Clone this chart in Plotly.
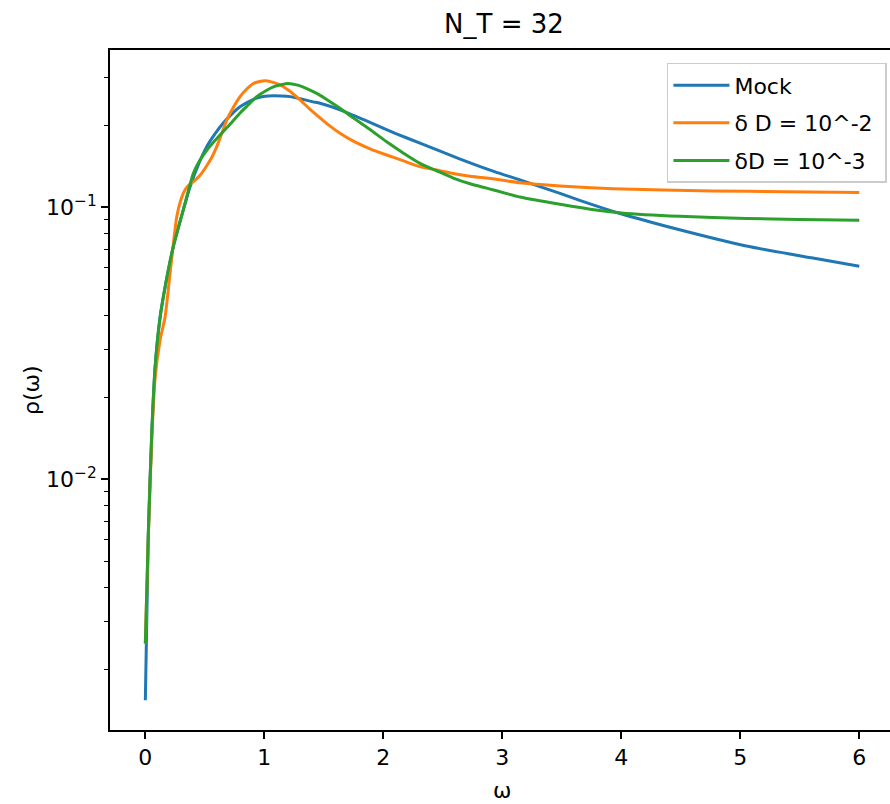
import plotly.graph_objects as go

# omega grid and spectral functions
omega_mock = [0, 0.025, 0.054, 0.082, 0.124, 0.17, 0.235, 0.319, 0.376, 0.45, 0.516, 0.585, 0.655,
              0.726, 0.796, 0.866, 0.936, 1.006, 1.076, 1.146, 1.216, 1.31, 1.41, 1.468, 1.636,
              1.888, 2.1, 2.308, 2.52, 2.729, 2.94, 3.149, 3.485, 3.65, 3.99, 4.49, 5.05, 5.61, 6.0]
rho_mock = [0.00154, 0.0063, 0.0148, 0.0258, 0.0394, 0.052, 0.0716, 0.0978, 0.119, 0.145, 0.167,
            0.186, 0.204, 0.220, 0.234, 0.244, 0.252, 0.256, 0.257, 0.2565, 0.255, 0.250, 0.244,
            0.241, 0.228, 0.205, 0.187, 0.172, 0.158, 0.1455, 0.1348, 0.126, 0.1124, 0.106, 0.0948,
            0.0826, 0.0720, 0.0650, 0.0607]

omega_d2 = [0, 0.025, 0.054, 0.082, 0.124, 0.166, 0.215, 0.264, 0.3, 0.334, 0.37, 0.403, 0.46,
            0.516, 0.56, 0.6, 0.643, 0.684, 0.74, 0.796, 0.852, 0.908, 0.96, 1.006, 1.06, 1.13,
            1.21, 1.3, 1.38, 1.468, 1.55, 1.636, 1.748, 1.888, 2.028, 2.17, 2.308, 2.45, 2.588,
            2.729, 2.869, 3.149, 3.485, 3.93, 4.77, 5.4, 6.0]
rho_d2 = [0.00249, 0.0062, 0.014, 0.0235, 0.0325, 0.0395, 0.061, 0.0923, 0.107, 0.116, 0.121, 0.124,
          0.131, 0.142, 0.153, 0.167, 0.187, 0.209, 0.233, 0.255, 0.272, 0.285, 0.29, 0.292, 0.289,
          0.282, 0.268, 0.248, 0.23, 0.213, 0.199, 0.187, 0.175, 0.164, 0.1556, 0.148, 0.141, 0.137,
          0.133, 0.13, 0.128, 0.123, 0.1197, 0.117, 0.1148, 0.114, 0.1133]

omega_d3 = [0, 0.025, 0.054, 0.082, 0.124, 0.17, 0.235, 0.319, 0.403, 0.46, 0.516, 0.585, 0.655,
            0.726, 0.796, 0.866, 0.936, 1.006, 1.076, 1.14, 1.2, 1.28, 1.356, 1.44, 1.524, 1.636,
            1.748, 1.888, 2.028, 2.17, 2.308, 2.45, 2.588, 2.729, 2.869, 3.149, 3.485, 3.8, 4.0,
            4.49, 5.05, 5.5, 6.0]
rho_d3 = [0.00249, 0.0063, 0.0148, 0.0258, 0.0394, 0.052, 0.0716, 0.0978, 0.133, 0.149, 0.162,
          0.176, 0.19, 0.205, 0.222, 0.238, 0.255, 0.267, 0.277, 0.282, 0.285, 0.281, 0.273, 0.262,
          0.249, 0.231, 0.213, 0.193, 0.174, 0.158, 0.145, 0.136, 0.128, 0.122, 0.1175, 0.109,
          0.1025, 0.0975, 0.0953, 0.0926, 0.0909, 0.0902, 0.0896]

x_ticks = [0, 1, 2, 3, 4, 5, 6]
y_ticks = [0.01, 0.1]
y_ticktext = ['10<sup>\u22122</sup>', '10<sup>\u22121</sup>']
y_minor = [0.002, 0.003, 0.004, 0.005, 0.006, 0.007, 0.008, 0.009,
           0.02, 0.03, 0.04, 0.05, 0.06, 0.07, 0.08, 0.09, 0.2, 0.3]

font = 'DejaVu Sans'

fig = go.Figure()
for name, xs, ys, col in [('Mock', omega_mock, rho_mock, '#1f77b4'),
                          ('\u03b4 D = 10^-2', omega_d2, rho_d2, '#ff7f0e'),
                          ('\u03b4D = 10^-3', omega_d3, rho_d3, '#2ca02c')]:
    fig.add_trace(go.Scatter(x=xs, y=ys, name=name + '\u00a0', legendgroup=name, mode='lines',
                             line={'color': col, 'width': 3, 'shape': 'spline', 'smoothing': 0.6}))

fig.update_layout(
    width=890, height=804,
    template='plotly_white',
    paper_bgcolor='white', plot_bgcolor='white',
    margin={'l': 110, 'r': 0, 't': 50, 'b': 74},
    font={'family': font, 'color': 'black', 'size': 22},
    title={'text': 'N_T = 32', 'font_size': 26, 'x': 0.505, 'xref': 'paper', 'xanchor': 'center',
           'y': 1 - 24 / 804, 'yanchor': 'middle'},
    showlegend=True,
    legend={'x': 0.714, 'xanchor': 'left', 'y': 0.981, 'yanchor': 'top',
            'bgcolor': 'rgba(255,255,255,0.8)', 'bordercolor': '#cccccc', 'borderwidth': 1.5,
            'font_size': 22, 'tracegroupgap': 6, 'itemwidth': 56},
    xaxis={'range': [-0.297, 6.258], 'tickvals': x_ticks, 'ticks': 'outside', 'ticklen': 7,
           'tickwidth': 1.7, 'tickcolor': 'black', 'showline': True, 'linecolor': 'black',
           'linewidth': 1.7, 'mirror': True, 'showgrid': False, 'zeroline': False,
           'tickfont_size': 22},
    yaxis={'type': 'log', 'range': [-2.922, -0.422], 'tickvals': y_ticks, 'ticktext': y_ticktext,
           'ticks': 'outside', 'ticklen': 7, 'tickwidth': 1.7, 'tickcolor': 'black',
           'showline': True, 'linecolor': 'black', 'linewidth': 1.7, 'mirror': False,
           'showgrid': False, 'zeroline': False, 'tickfont_size': 22,
           'minor': {'tickvals': y_minor, 'ticks': 'outside', 'ticklen': 4, 'tickwidth': 1.2,
                     'tickcolor': 'black', 'showgrid': False}},
)

# axis titles placed like matplotlib's
fig.add_annotation(text='\u03c9', xref='paper', yref='paper', x=0.503, y=-(791 - 730) / 680,
                   yanchor='middle', showarrow=False, font_size=22)
fig.add_annotation(text='\u03c1(\u03c9)', xref='paper', yref='paper', x=-(110 - 31) / 780, y=0.5,
                   xanchor='center', textangle=-90, showarrow=False, font_size=22)

fig.write_html('out.html', config={'displayModeBar': False},
               post_script="document.body.style.margin='0px';")
